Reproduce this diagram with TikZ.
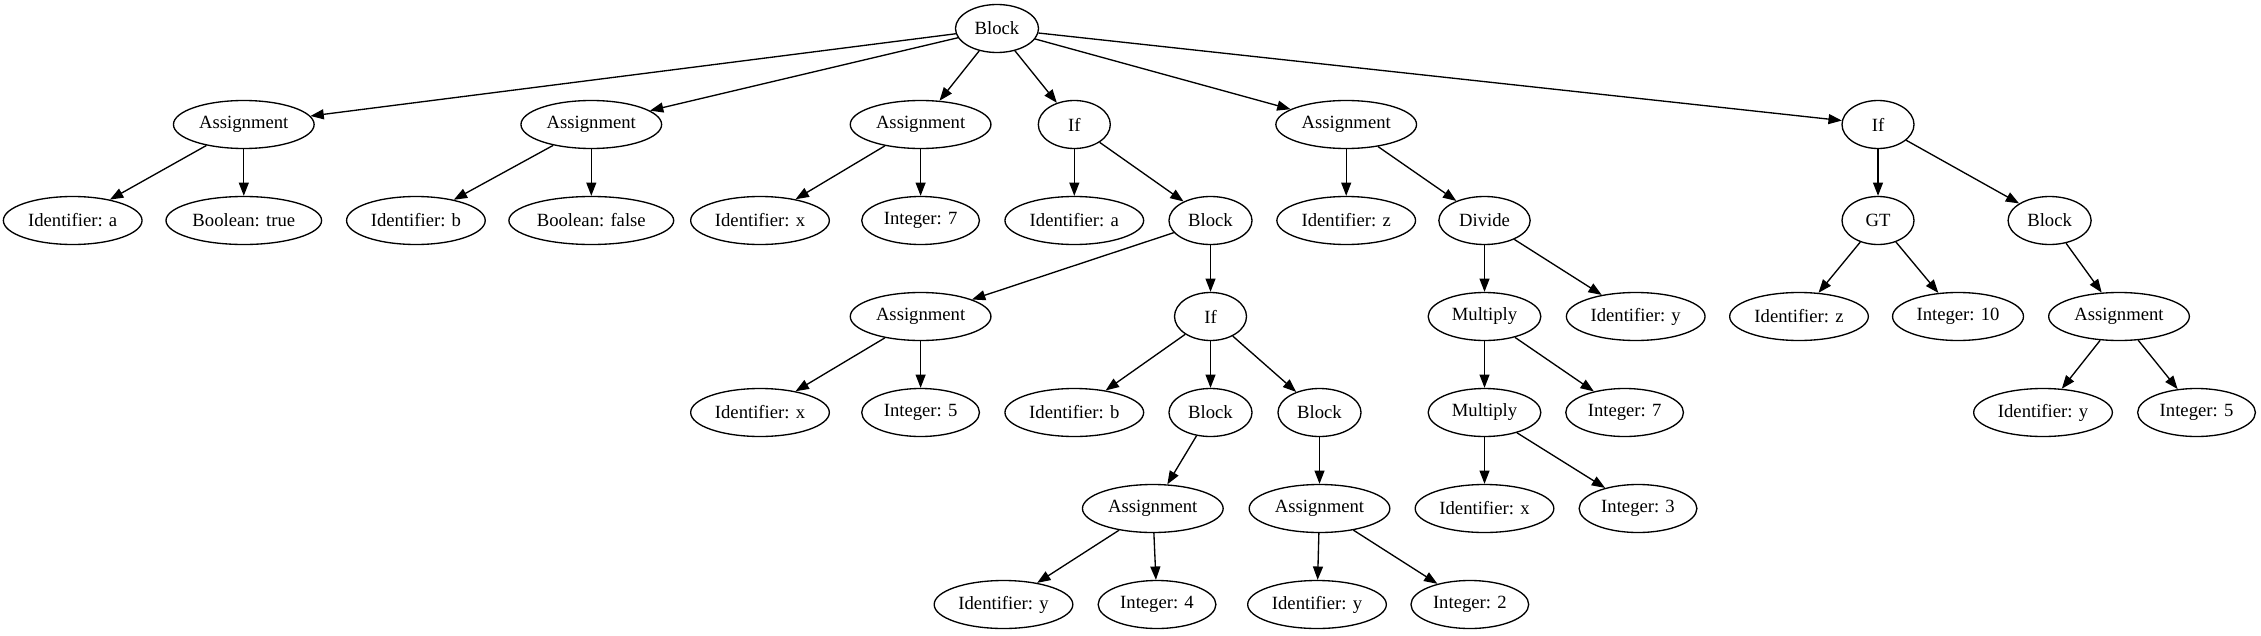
\documentclass[tikz,border=0pt]{standalone}
\usepackage{fontspec}
\setmainfont{Liberation Serif}
\usetikzlibrary{shapes.geometric,arrows.meta}
\begin{document}
\begin{tikzpicture}[x=0.75pt,y=-0.75pt,
  nd/.style={draw,ellipse,inner sep=0pt,minimum height=36pt,line width=1pt,font=\fontsize{14pt}{16pt}\selectfont},
  wA/.style={nd,minimum width=105.5pt},
  wI/.style={nd,minimum width=104pt},
  wBT/.style={nd,minimum width=116.7pt},
  wBF/.style={nd,minimum width=123.6pt},
  wN/.style={nd,minimum width=88.3pt},
  wN10/.style={nd,minimum width=98.2pt},
  wB/.style={nd,minimum width=62.3pt},
  wS/.style={nd,minimum width=54pt},
  wD/.style={nd,minimum width=68.5pt},
  wM/.style={nd,minimum width=84.5pt},
  edge/.style={-{Triangle[length=10pt,width=7.5pt]},line width=1pt}]
\useasboundingbox (0,0) rectangle (2261,635);
% row 1
\node[wB] (root) at (997,28.5) {Block};
% row 2
\node[wA] (a1) at (243.8,124.5) {Assignment};
\node[wA] (a2) at (591.3,124.5) {Assignment};
\node[wA] (a3) at (920.6,124.5) {Assignment};
\node[wS] (if1) at (1074.3,124.5) {If};
\node[wA] (a4) at (1346.2,124.5) {Assignment};
\node[wS] (if2) at (1878,124.5) {If};
% row 3
\node[wI] (ida) at (72.7,220.5) {Identifier: a};
\node[wBT] (bt) at (243.8,220.5) {Boolean: true};
\node[wI] (idb) at (415.9,220.5) {Identifier: b};
\node[wBF] (bf) at (591.3,220.5) {Boolean: false};
\node[wI] (idx) at (760,220.5) {Identifier: x};
\node[wN] (i7) at (920.6,220.5) {Integer: 7};
\node[wI] (idaa) at (1074.3,220.5) {Identifier: a};
\node[wB] (blk1) at (1210.5,220.5) {Block};
\node[wI] (idz) at (1346.2,220.5) {Identifier: z};
\node[wD] (div) at (1484.5,220.5) {Divide};
\node[wS] (gt) at (1878,220.5) {GT};
\node[wB] (blk2) at (2049.6,220.5) {Block};
% row 4
\node[wA] (a5) at (920.6,316.5) {Assignment};
\node[wS] (if3) at (1210.5,316.5) {If};
\node[wM] (mul1) at (1484.5,316.5) {Multiply};
\node[wI] (idy1) at (1635.7,316.5) {Identifier: y};
\node[wI] (idz2) at (1799,316.5) {Identifier: z};
\node[wN10] (i10) at (1958,316.5) {Integer: 10};
\node[wA] (a6) at (2119,316.5) {Assignment};
% row 5
\node[wI] (idx2) at (760,412.5) {Identifier: x};
\node[wN] (i5) at (920.6,412.5) {Integer: 5};
\node[wI] (idb2) at (1074.3,412.5) {Identifier: b};
\node[wB] (blk3) at (1210.5,412.5) {Block};
\node[wB] (blk4) at (1319.5,412.5) {Block};
\node[wM] (mul2) at (1484.5,412.5) {Multiply};
\node[wN] (i7b) at (1624.6,412.5) {Integer: 7};
\node[wI] (idy2) at (2043,412.5) {Identifier: y};
\node[wN] (i5b) at (2196.5,412.5) {Integer: 5};
% row 6
\node[wA] (a7) at (1152.8,508.5) {Assignment};
\node[wA] (a8) at (1319.5,508.5) {Assignment};
\node[wI] (idx3) at (1484.5,508.5) {Identifier: x};
\node[wN] (i3) at (1638,508.5) {Integer: 3};
% row 7
\node[wI] (idy3) at (1003.5,604.5) {Identifier: y};
\node[wN] (i4) at (1157,604.5) {Integer: 4};
\node[wI] (idy4) at (1317,604.5) {Identifier: y};
\node[wN] (i2) at (1469.8,604.5) {Integer: 2};
% edges
\foreach \c in {a1,a2,a3,if1,a4,if2} \draw[edge] (root) -- (\c);
\draw[edge] (a1) -- (ida); \draw[edge] (a1) -- (bt);
\draw[edge] (a2) -- (idb); \draw[edge] (a2) -- (bf);
\draw[edge] (a3) -- (idx); \draw[edge] (a3) -- (i7);
\draw[edge] (if1) -- (idaa); \draw[edge] (if1) -- (blk1);
\draw[edge] (a4) -- (idz); \draw[edge] (a4) -- (div);
\draw[edge] (if2) -- (gt); \draw[edge] (if2) -- (blk2);
\draw[edge] (blk1) -- (a5); \draw[edge] (blk1) -- (if3);
\draw[edge] (div) -- (mul1); \draw[edge] (div) -- (idy1);
\draw[edge] (gt) -- (idz2); \draw[edge] (gt) -- (i10);
\draw[edge] (blk2) -- (a6);
\draw[edge] (a5) -- (idx2); \draw[edge] (a5) -- (i5);
\draw[edge] (if3) -- (idb2); \draw[edge] (if3) -- (blk3); \draw[edge] (if3) -- (blk4);
\draw[edge] (mul1) -- (mul2); \draw[edge] (mul1) -- (i7b);
\draw[edge] (a6) -- (idy2); \draw[edge] (a6) -- (i5b);
\draw[edge] (blk3) -- (a7);
\draw[edge] (blk4) -- (a8);
\draw[edge] (mul2) -- (idx3); \draw[edge] (mul2) -- (i3);
\draw[edge] (a7) -- (idy3); \draw[edge] (a7) -- (i4);
\draw[edge] (a8) -- (idy4); \draw[edge] (a8) -- (i2);
\end{tikzpicture}
\end{document}
